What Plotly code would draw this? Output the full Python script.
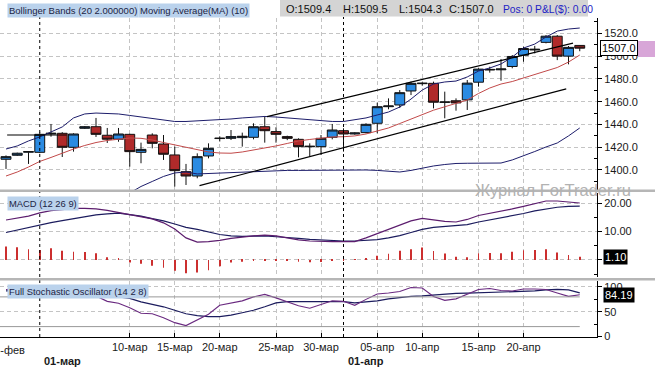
import plotly.graph_objects as go

# ---------------- data ----------------
dates = ["2011-02-25", "2011-02-27", "2011-02-28", "2011-03-01", "2011-03-02", "2011-03-03",
         "2011-03-04", "2011-03-06", "2011-03-07", "2011-03-08", "2011-03-09", "2011-03-10",
         "2011-03-11", "2011-03-13", "2011-03-14", "2011-03-15", "2011-03-16", "2011-03-17",
         "2011-03-18", "2011-03-20", "2011-03-21", "2011-03-22", "2011-03-23", "2011-03-24",
         "2011-03-25", "2011-03-27", "2011-03-28", "2011-03-29", "2011-03-30", "2011-03-31",
         "2011-04-01", "2011-04-03", "2011-04-04", "2011-04-05", "2011-04-06", "2011-04-07",
         "2011-04-08", "2011-04-10", "2011-04-11", "2011-04-12", "2011-04-13", "2011-04-14",
         "2011-04-15", "2011-04-17", "2011-04-18", "2011-04-19", "2011-04-20", "2011-04-21",
         "2011-04-22", "2011-04-24", "2011-04-25", "2011-04-26"]

opens = [1409.4, 1412.9, 1415.6, 1415.5, 1431.6, 1432.2, 1419.9, 1436.6, 1438.0, 1430.5,
         1427.0, 1431.3, 1415.5, 1430.7, 1422.8, 1413.2, 1398.5, 1394.7, 1412.3, 1427.6,
         1427.8, 1428.4, 1428.7, 1438.0, 1433.7, 1429.3, 1426.9, 1420.4, 1420.5, 1428.7,
         1434.5, 1431.6, 1432.8, 1441.0, 1455.6, 1457.1, 1469.4, 1475.8, 1476.1, 1459.4,
         1460.8, 1461.6, 1477.1, 1487.8, 1488.0, 1490.9, 1500.8, 1505.4, 1512.1, 1517.5,
         1500.0, 1509.4]
highs = [1412.8, 1415.2, 1416.6, 1433.0, 1440.4, 1433.2, 1432.2, 1438.6, 1445.7, 1436.9,
         1436.9, 1431.8, 1424.0, 1432.2, 1430.7, 1420.5, 1405.3, 1414.6, 1423.4, 1429.6,
         1435.1, 1432.8, 1441.0, 1447.4, 1437.5, 1430.1, 1427.8, 1423.4, 1430.7, 1440.4,
         1436.6, 1433.0, 1441.0, 1459.1, 1462.9, 1470.2, 1477.6, 1477.0, 1477.6, 1468.8,
         1462.9, 1479.0, 1489.3, 1490.7, 1497.5, 1501.0, 1508.3, 1509.0, 1518.5, 1518.5,
         1508.9, 1509.5]
lows = [1400.9, 1412.3, 1405.3, 1414.8, 1429.2, 1411.4, 1416.1, 1436.0, 1429.0, 1423.7,
        1424.8, 1402.9, 1405.9, 1419.0, 1408.8, 1385.4, 1386.8, 1392.7, 1410.2, 1425.0,
        1426.3, 1420.5, 1426.9, 1424.0, 1424.0, 1426.2, 1411.1, 1411.7, 1413.2, 1426.9,
        1416.1, 1431.0, 1432.2, 1432.2, 1453.3, 1454.4, 1465.8, 1474.0, 1454.1, 1445.4,
        1452.1, 1452.7, 1473.2, 1485.5, 1478.4, 1489.3, 1495.1, 1502.4, 1511.2, 1496.5,
        1492.8, 1504.3]
closes = [1411.7, 1414.7, 1416.1, 1431.3, 1432.2, 1419.9, 1431.6, 1438.0, 1431.3, 1427.0,
          1431.6, 1416.1, 1418.1, 1423.4, 1413.8, 1399.4, 1394.7, 1411.7, 1419.0, 1427.9,
          1429.3, 1429.6, 1438.0, 1434.5, 1431.3, 1427.8, 1420.5, 1420.8, 1427.8, 1435.1,
          1431.6, 1432.5, 1440.1, 1455.6, 1456.2, 1467.9, 1476.1, 1476.2, 1459.5, 1459.7,
          1458.9, 1476.3, 1488.6, 1488.3, 1488.7, 1499.7, 1506.7, 1506.0, 1517.5, 1500.0,
          1507.7, 1507.0]

bb_upper = [1418.4, 1421.1, 1425.5, 1429.0, 1433.4, 1437.8, 1445.7, 1449.2, 1450.0, 1449.6,
            1449.2, 1447.9, 1446.5, 1444.8, 1443.5, 1442.6, 1442.6, 1443.0, 1443.5, 1443.9,
            1444.8, 1445.7, 1446.5, 1447.0, 1446.5, 1445.7, 1444.8, 1443.9, 1443.0, 1442.6,
            1442.6, 1443.9, 1445.7, 1448.3, 1450.9, 1455.3, 1462.3, 1470.2, 1475.5, 1477.3,
            1478.1, 1481.7, 1486.9, 1489.6, 1493.1, 1499.2, 1507.1, 1510.6, 1516.8, 1522.0,
            1523.8, 1524.7]
bb_lower = [None, None, None, None, None, None, None, None, None, None,
            None, 1379.8, 1385.5, 1389.9, 1394.3, 1397.4, 1398.2, 1396.5, 1396.9, 1397.4,
            1397.8, 1398.2, 1398.7, 1399.1, 1399.1, 1399.6, 1399.6, 1399.7, 1400.0, 1400.0,
            1400.0, 1400.0, 1400.0, 1399.6, 1398.7, 1398.2, 1399.6, 1401.8, 1403.5, 1404.8,
            1405.7, 1405.9, 1405.9, 1405.7, 1406.1, 1408.8, 1412.3, 1416.2, 1420.2, 1423.7,
            1429.9, 1436.9]
ma10 = [1394.7, 1398.2, 1402.6, 1407.5, 1411.0, 1414.9, 1418.4, 1421.5, 1424.1, 1425.9,
        1427.2, 1428.1, 1427.8, 1426.3, 1424.1, 1422.0, 1419.8, 1417.6, 1415.8, 1414.9,
        1414.7, 1415.8, 1417.6, 1418.9, 1421.1, 1423.3, 1425.5, 1426.8, 1428.1, 1429.0,
        1429.2, 1429.9, 1431.6, 1434.2, 1436.9, 1440.8, 1444.8, 1449.2, 1452.5, 1455.5,
        1458.5, 1461.5, 1467.2, 1472.0, 1475.5, 1477.7, 1480.8, 1483.8, 1486.5, 1490.0,
        1494.8, 1501.0]

macd_line = [14.1, 14.8, 15.5, 16.6, 17.4, 17.8, 18.2, 18.2, 18.0, 17.5,
             16.8, 16.0, 15.3, 14.5, 13.1, 10.9, 7.8, 6.3, 6.5, 6.9,
             7.6, 8.1, 8.5, 8.8, 8.5, 7.8, 7.1, 6.7, 6.5, 6.5,
             6.5, 6.5, 7.8, 9.3, 10.8, 12.3, 13.8, 14.7, 14.1, 13.6,
             13.4, 14.3, 15.7, 16.4, 17.1, 18.0, 18.9, 19.9, 20.8, 20.8,
             20.5, 20.1]
macd_signal = [9.7, 10.6, 11.5, 12.5, 13.2, 13.9, 14.6, 15.3, 15.9, 16.3,
               16.5, 16.0, 15.5, 14.6, 13.8, 12.7, 11.5, 10.8, 9.9, 9.0,
               8.5, 8.3, 8.4, 8.5, 8.2, 7.8, 7.6, 7.3, 7.1, 6.8,
               6.7, 6.7, 6.9, 7.2, 7.8, 8.6, 9.7, 10.8, 11.5, 11.8,
               12.0, 12.5, 13.4, 14.1, 14.8, 15.5, 16.4, 17.3, 18.0, 18.6,
               18.9, 19.0]
macd_hist = [4.8, 4.5, 3.8, 3.5, 4.1, 3.3, 2.9, 2.8, 2.4, 1.0,
             0.4, -0.9, -1.3, -2.0, -2.7, -3.8, -4.7, -4.4, -3.6, -2.2,
             -0.9, -0.6, -0.3, -0.3, -0.2, -0.3, -0.6, -0.8, -0.7, -0.4,
             -0.2, 0.3, 0.6, 1.5, 2.2, 3.3, 3.8, 4.4, 3.2, 2.3,
             1.1, 1.0, 2.4, 2.5, 2.4, 2.9, 3.4, 3.5, 3.8, 2.6,
             1.8, 1.1]

stoch_k = [95, 96, 97, 96, 95, 92, 90, 88, 82, 71,
           67, 58, 47, 46, 38, 28, 22, 33, 45, 63,
           68, 72, 80, 85, 78, 70, 62, 57, 64, 72,
           71, 63, 75, 86, 88, 91, 99, 98, 81, 73,
           76, 86, 95, 97, 93, 92, 96, 96, 95, 88,
           81, 84.2]
stoch_d = [92, 93, 94, 94, 94, 93, 92, 90, 86, 83,
           80, 77, 70, 65, 60, 53, 46, 42, 40, 40,
           43, 48, 53, 60, 68, 70.5, 70.5, 70.5, 70.5, 71,
           70.5, 68, 70, 72, 76, 79, 81, 82, 84, 86,
           87, 87.5, 88, 88.5, 89, 89.5, 90, 92, 94, 95,
           94, 88]
stoch_levels = [20, 80]

# hand-drawn lines on the price panel: (bar index, price)
upper_channel = [(23.2, 1446.8), (50.4, 1511.4)]
lower_channel = [(17.2, 1386.2), (49.8, 1471.3)]
support_line = [(0.1, 1430.7), (5.4, 1430.7)]

tick_dates = ["2011-03-10", "2011-03-15", "2011-03-20", "2011-03-25", "2011-03-30",
              "2011-04-05", "2011-04-10", "2011-04-15", "2011-04-20"]
tick_text = ["10-мар", "15-мар", "20-мар", "25-мар", "30-мар",
             "05-апр", "10-апр", "15-апр", "20-апр"]
first_date_label = "25-фев"
month_dates = ["2011-03-01", "2011-04-01"]
month_text = ["01-мар", "01-апр"]

last_close = closes[-1]
macd_last = 1.10
stoch_last = 84.19

# ---------------- layout helpers (pixel -> paper) ----------------
PW, PH = 597.0, 337.0
def ax(px):
    return px / PW
def ay(py):
    return (PH - py) / PH

FONT = "Liberation Sans, Arial, sans-serif"
GRID = "#c4c4c4"
DASH = "4px,3px"
idx = list(range(len(dates)))

fig = go.Figure()

fig.add_trace(go.Scatter(x=idx, y=bb_upper, mode="lines", line=dict(color="#1d1d6b", width=1),
                         xaxis="x", yaxis="y", hoverinfo="skip"))
fig.add_trace(go.Scatter(x=idx, y=bb_lower, mode="lines", line=dict(color="#1d1d6b", width=1),
                         xaxis="x", yaxis="y", hoverinfo="skip"))
fig.add_trace(go.Scatter(x=idx, y=ma10, mode="lines", line=dict(color="#c24a4a", width=1),
                         xaxis="x", yaxis="y", hoverinfo="skip"))
fig.add_trace(go.Candlestick(
    x=idx, open=opens, high=highs, low=lows, close=closes, xaxis="x", yaxis="y",
    whiskerwidth=0,
    increasing=dict(fillcolor="#2b8be2", line=dict(color="#111111", width=1)),
    decreasing=dict(fillcolor="#b02a2a", line=dict(color="#111111", width=1))))

fig.add_trace(go.Bar(x=idx, y=macd_hist, width=0.08, marker=dict(color="#cc2f2f", line=dict(width=0)),
                     xaxis="x", yaxis="y2"))
fig.add_trace(go.Scatter(x=idx, y=macd_signal, mode="lines", line=dict(color="#1c1c5e", width=1.2),
                         xaxis="x", yaxis="y2"))
fig.add_trace(go.Scatter(x=idx, y=macd_line, mode="lines", line=dict(color="#5c1d6e", width=1.2),
                         xaxis="x", yaxis="y2"))

fig.add_trace(go.Scatter(x=idx, y=stoch_d, mode="lines", line=dict(color="#1c1c5e", width=1.2),
                         xaxis="x", yaxis="y3"))
fig.add_trace(go.Scatter(x=idx, y=stoch_k, mode="lines", line=dict(color="#6a2a80", width=1.1),
                         xaxis="x", yaxis="y3"))

x_left = (0 - 6) / 11.25
x_right = (597 - 6) / 11.25

yax_common = dict(side="right", anchor="x", showline=True, linecolor="#000000", linewidth=1,
                  ticks="outside", ticklen=4, tickcolor="#000000",
                  showgrid=True, gridcolor=GRID, griddash=DASH, gridwidth=1, zeroline=False,
                  tickfont=dict(family=FONT, size=11, color="#1a1a1a"), fixedrange=True)

def minor(step):
    return dict(dtick=step, ticks="inside", ticklen=3, tickcolor="#000000", showgrid=False)

fig.update_layout(
    width=655, height=367,
    margin=dict(l=0, r=58, t=0, b=30),
    paper_bgcolor="white", plot_bgcolor="white",
    showlegend=False, boxgap=0.12, boxgroupgap=0,
    font=dict(family=FONT, size=11, color="#1a1a1a"),
    xaxis=dict(domain=[0, 1], range=[x_left, x_right], anchor="y3",
               showline=True, linecolor="#000000", linewidth=1,
               ticks="inside", ticklen=4, tickcolor="#000000",
               tickvals=[dates.index(d) for d in tick_dates], ticktext=tick_text,
               showgrid=True, gridcolor=GRID, griddash=DASH, zeroline=False,
               rangeslider=dict(visible=False), fixedrange=True,
               tickfont=dict(family=FONT, size=11, color="#1a1a1a")),
    yaxis=dict(domain=[ay(190), ay(18)], range=[1382.4, 1533.5],
               tickvals=[1400, 1420, 1440, 1460, 1480, 1500, 1520], tickformat=".1f",
               minor=dict(tickvals=[1390, 1410, 1430, 1450, 1470, 1490, 1510, 1530],
                          ticks="inside", ticklen=3, tickcolor="#000000", showgrid=False),
               **yax_common),
    yaxis2=dict(domain=[ay(277), ay(193)], range=[-6.0, 23.63],
                tickvals=[0, 10, 20], tickformat=".2f",
                minor=dict(tickvals=[-5, 5, 15], ticks="inside", ticklen=3,
                           tickcolor="#000000", showgrid=False),
                **yax_common),
    yaxis3=dict(domain=[0, ay(281)], range=[-1.0, 112.1],
                tickvals=[0, 50, 100], tickformat="d",
                minor=dict(tickvals=[25, 75], ticks="inside", ticklen=3,
                           tickcolor="#000000", showgrid=False),
                **yax_common),
)

shapes = []
for line in (upper_channel, lower_channel, support_line):
    (x0, y0), (x1, y1) = line
    shapes.append(dict(type="line", xref="x", yref="y", x0=x0, y0=y0, x1=x1, y1=y1,
                       line=dict(color="#000000", width=1.2)))
for lv in stoch_levels:
    shapes.append(dict(type="line", xref="x", yref="y3", x0=x_left, x1=len(dates) - 1,
                       y0=lv, y1=lv, line=dict(color="#999999", width=1)))
for d in month_dates:
    i = dates.index(d)
    shapes.append(dict(type="line", xref="x", yref="paper", x0=i, x1=i, y0=0, y1=ay(17),
                       line=dict(color="#000000", width=1, dash="3px,3px")))
# panel separators
for top in (189.5, 278.0):
    shapes.append(dict(type="rect", xref="paper", yref="paper", x0=0, x1=ax(655),
                       y0=ay(top + 2.5), y1=ay(top), fillcolor="#b6b6b6", line=dict(width=0),
                       layer="above"))
# header gray box
shapes.append(dict(type="rect", xref="paper", yref="paper", x0=ax(280), x1=ax(588),
                   y0=ay(16.5), y1=ay(0), fillcolor="#d4d4d4", line=dict(width=0)))
# last-price marker strip
shapes.append(dict(type="rect", xref="paper", yref="paper", x0=ax(638), x1=ax(655),
                   y0=ay(57), y1=ay(41), fillcolor="#d8a6d8", line=dict(width=0)))
fig.update_layout(shapes=shapes)

LBL_BG = "#bad2ec"
LBL_FG = "#1c2444"
ann = []
def label(text, px, py, size=9.4, bg=LBL_BG, color=LBL_FG, **kw):
    d = dict(text=text, xref="paper", yref="paper", x=ax(px), y=ay(py), xanchor="left",
             yanchor="middle", showarrow=False, bgcolor=bg, borderpad=1,
             font=dict(family=FONT, size=size, color=color))
    d.update(kw)
    ann.append(d)

label("Bollinger Bands (20 2.000000)", 7, 10.5, size=9.5)
label("Moving Average(MA) (10)", 138, 10.5, size=9.5)
label("MACD (12 26 9)", 7, 203.5)
label("Full Stochastic Oscillator (14 2 8)", 7, 291.5)

for txt, px in (("O:1509.4", 285), ("H:1509.5", 342), ("L:1504.3", 398), ("C:1507.0", 448)):
    label(txt, px, 9, size=11, bg="rgba(0,0,0,0)", color="#111111", borderpad=0)
label("Pos: 0 P&L($): 0.00", 502, 9, size=10.3, bg="rgba(0,0,0,0)", color="#2323c4", borderpad=0)

ann.append(dict(text="Журнал ForTrader.ru", xref="paper", yref="paper", x=ax(473), y=ay(190),
                xanchor="left", yanchor="middle", showarrow=False,
                font=dict(family=FONT, size=16.5, color="#b2b2b2")))

# last value boxes on the right axes
ann.append(dict(text=f"{last_close:.1f}", xref="paper", yref="y", x=ax(600), y=last_close,
                xanchor="left", yanchor="middle", showarrow=False, bgcolor="white",
                bordercolor="#000000", borderwidth=1, borderpad=1,
                font=dict(family=FONT, size=11, color="#000000")))
ann.append(dict(text=f"{macd_last:.2f}", xref="paper", yref="y2", x=ax(603), y=macd_last,
                xanchor="left", yanchor="middle", showarrow=False, bgcolor="#000000", borderpad=1,
                font=dict(family=FONT, size=11, color="#ffffff")))
ann.append(dict(text=f"{stoch_last:.2f}", xref="paper", yref="y3", x=ax(603), y=stoch_last,
                xanchor="left", yanchor="middle", showarrow=False, bgcolor="#000000", borderpad=1,
                font=dict(family=FONT, size=11, color="#ffffff")))

# date labels not carried by the axis ticks
ann.append(dict(text=first_date_label, xref="x", yref="paper", x=0, y=ay(350),
                xanchor="center", yanchor="middle", showarrow=False,
                font=dict(family=FONT, size=11, color="#1a1a1a")))
for d, t in zip(month_dates, month_text):
    ann.append(dict(text=f"<b>{t}</b>", xref="x", yref="paper", x=dates.index(d), xshift=2,
                    y=ay(361), xanchor="left", yanchor="middle", showarrow=False,
                    font=dict(family=FONT, size=11, color="#1a1a1a")))

fig.update_layout(annotations=ann)
fig.write_html("out.html", config={"displayModeBar": False},
               post_script="document.body.style.margin='0px';")
